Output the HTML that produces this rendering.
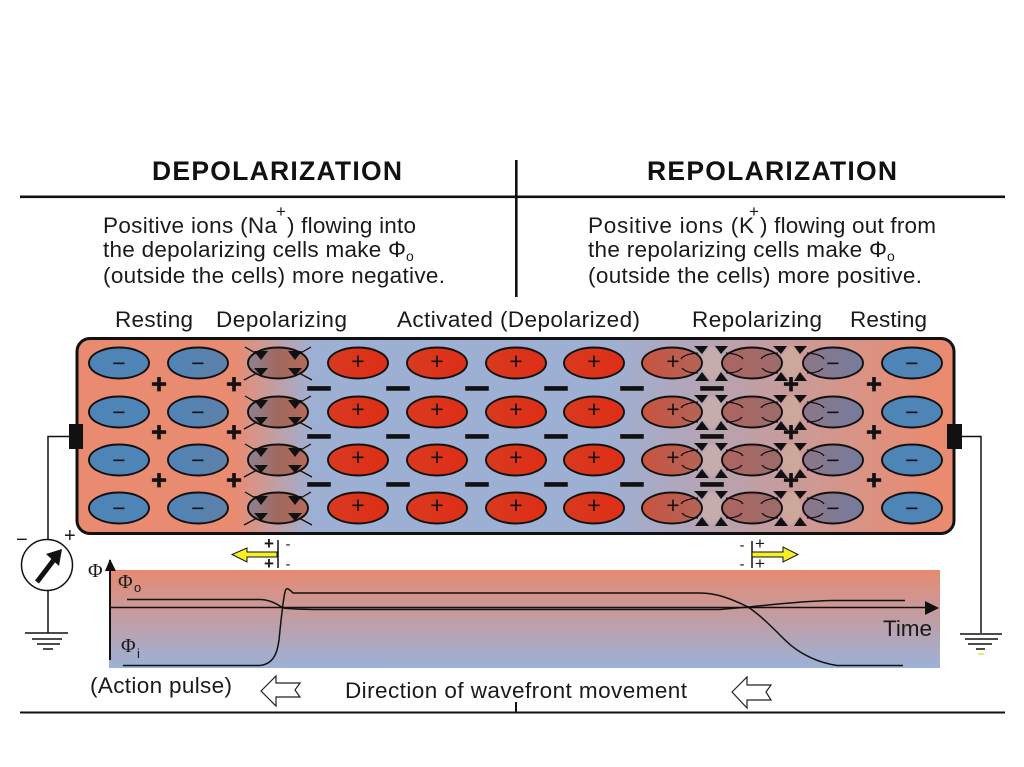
<!DOCTYPE html>
<html>
<head>
<meta charset="utf-8">
<title>Depolarization and Repolarization</title>
<style>
html,body{margin:0;padding:0;background:#fff;width:1024px;height:767px;overflow:hidden}
svg{display:block}
text{font-family:"Liberation Sans",Arial,sans-serif;fill:#1a1a1a}
.b{font-size:22.5px}
.h{font-size:26.5px;font-weight:bold;fill:#111}
.s{font-size:23px;text-anchor:middle;fill:#111;font-weight:normal}
.t{font-size:27px;font-weight:bold;text-anchor:middle;fill:#111;stroke:#111;stroke-width:.7}
.m{font-size:21px;font-weight:bold;text-anchor:middle;fill:#111;stroke:#111;stroke-width:2.6}
.p{font-family:"Liberation Serif",serif;font-size:20px}
.c{stroke:#111;stroke-width:1.9}
.l{fill:none;stroke:#111;stroke-width:1.3}
</style>
</head>
<body>
<svg width="1024" height="767" viewBox="0 0 1024 767" xmlns="http://www.w3.org/2000/svg">
<defs>
<linearGradient id="panel" x1="76" x2="955" y1="0" y2="0" gradientUnits="userSpaceOnUse">
<stop offset="0" stop-color="#E98B70"/><stop offset=".18" stop-color="#E98B70"/>
<stop offset=".27" stop-color="#9DB0D4"/><stop offset=".6" stop-color="#9DB0D4"/>
<stop offset=".97" stop-color="#E98B70"/><stop offset="1" stop-color="#E98B70"/>
</linearGradient>
<linearGradient id="graph" x1="0" x2="0" y1="0" y2="1">
<stop offset="0" stop-color="#E68A70"/><stop offset="1" stop-color="#9CB1D7"/>
</linearGradient>
<linearGradient id="g1" x1="0" x2="1" y1="0" y2="0"><stop offset="0" stop-color="#4F84B6"/><stop offset="1" stop-color="#4F84B6"/></linearGradient>
<linearGradient id="g2" x1="0" x2="1" y1="0" y2="0"><stop offset="0" stop-color="#4F84B6"/><stop offset="1" stop-color="#5F80A8"/></linearGradient>
<linearGradient id="g3" x1="0" x2="1" y1="0" y2="0"><stop offset="0" stop-color="#8F8290"/><stop offset=".5" stop-color="#A1685F"/><stop offset="1" stop-color="#B56A58"/></linearGradient>
<linearGradient id="g4" x1="0" x2="1" y1="0" y2="0"><stop offset="0" stop-color="#D83A20"/><stop offset="1" stop-color="#DE2E16"/></linearGradient>
<linearGradient id="g5" x1="0" x2="1" y1="0" y2="0"><stop offset="0" stop-color="#C85440"/><stop offset="1" stop-color="#B46458"/></linearGradient>
<linearGradient id="g6" x1="0" x2="1" y1="0" y2="0"><stop offset="0" stop-color="#AD6560"/><stop offset="1" stop-color="#9C6C6C"/></linearGradient>
<linearGradient id="g7" x1="0" x2="1" y1="0" y2="0"><stop offset="0" stop-color="#8E7688"/><stop offset="1" stop-color="#757C9C"/></linearGradient>

<g id="res1"><ellipse rx="30" ry="15.5" fill="url(#g1)" class="c"/></g>
<g id="res2"><ellipse rx="30" ry="15.5" fill="url(#g2)" class="c"/></g>
<g id="act"><ellipse rx="30" ry="15.5" fill="url(#g4)" class="c"/></g>
<g id="dep">
<ellipse rx="30" ry="15.5" fill="url(#g3)" class="c"/>
<path d="M-33-16-21-9M33-16 21-9M-34 17-21 10M34 17 21 10" class="l"/>
<path d="M-24-12H-10L-17-3ZM24-12H10L17-3ZM-24 5H-10L-17 13ZM24 5H10L17 13Z" fill="#111"/>
</g>
<g id="rep1">
<ellipse rx="30" ry="15.5" fill="url(#g5)" class="c"/>
<path d="M26-10Q12-9 9-4M26 10Q14 10 10 5" class="l"/>
</g>
<g id="rep2">
<ellipse rx="30" ry="15.5" fill="url(#g6)" class="c"/>
<path d="M-26-10Q-12-9-9-4M-26 10Q-14 10-10 5M26-10Q12-9 9-4M26 10Q14 10 10 5" class="l"/>
</g>
<g id="rep3">
<ellipse rx="30" ry="15.5" fill="url(#g7)" class="c"/>
<path d="M-26-10Q-12-9-9-4M-26 10Q-14 10-10 5" class="l"/>
</g>
<g id="gap1">
<path d="M0-17Q-22 0 0 17Q22 0 0-17Z" fill="#C6ADAD"/>
<path d="M-18-17H-4L-10-9ZM16-17H3L9-9ZM-17 18H-3L-10 9ZM16 18H3L9 9Z" fill="#111"/>
</g>
<g id="gap2">
<path d="M0-17Q-22 0 0 17Q22 0 0-17Z" fill="#CDA69C"/>
<path d="M-18-17H-4L-10-9ZM16-17H3L9-9ZM-17 18H-3L-10 9ZM16 18H3L9 9Z" fill="#111"/>
</g>
</defs>

<rect width="1024" height="767" fill="#fff"/>

<!-- header rules -->
<rect x="20" y="195.5" width="985" height="2.6" fill="#111"/>
<rect x="515" y="160" width="2.6" height="137" fill="#111"/>

<text x="152" y="180" class="h" textLength="250" lengthAdjust="spacing">DEPOLARIZATION</text>
<text x="647" y="180" class="h" textLength="250" lengthAdjust="spacing">REPOLARIZATION</text>

<text x="103" y="233" class="b" textLength="174" lengthAdjust="spacing">Positive ions (Na</text>
<text x="276" y="217" font-size="17">+</text>
<text x="287" y="233" class="b" textLength="129" lengthAdjust="spacing">) flowing into</text>
<text x="103" y="257" class="b" textLength="303" lengthAdjust="spacing">the depolarizing cells make Φ</text>
<text x="406" y="261" font-size="14">o</text>
<text x="103" y="283" class="b" textLength="342" lengthAdjust="spacing">(outside the cells) more negative.</text>

<text x="588" y="233" class="b" textLength="166" lengthAdjust="spacing">Positive ions (K</text>
<text x="749" y="217" font-size="17">+</text>
<text x="760" y="233" class="b" textLength="176" lengthAdjust="spacing">) flowing out from</text>
<text x="588" y="257" class="b" textLength="299" lengthAdjust="spacing">the repolarizing cells make Φ</text>
<text x="887" y="261" font-size="14">o</text>
<text x="588" y="283" class="b" textLength="334" lengthAdjust="spacing">(outside the cells) more positive.</text>

<text x="115" y="327" class="b" textLength="78" lengthAdjust="spacing">Resting</text>
<text x="216" y="327" class="b" textLength="131" lengthAdjust="spacing">Depolarizing</text>
<text x="397" y="327" class="b" textLength="243" lengthAdjust="spacing">Activated (Depolarized)</text>
<text x="692" y="327" class="b" textLength="130" lengthAdjust="spacing">Repolarizing</text>
<text x="850" y="327" class="b" textLength="77" lengthAdjust="spacing">Resting</text>

<!-- panel -->
<rect x="77" y="338.5" width="877" height="195" rx="13" fill="url(#panel)" stroke="#111" stroke-width="3"/>

<!-- cells -->
<use href="#res1" x="119" y="363"/><use href="#res1" x="119" y="412"/><use href="#res1" x="119" y="460"/><use href="#res1" x="119" y="508"/>
<use href="#res2" x="198" y="363"/><use href="#res2" x="198" y="412"/><use href="#res2" x="198" y="460"/><use href="#res2" x="198" y="508"/>
<use href="#dep" x="278" y="363"/><use href="#dep" x="278" y="412"/><use href="#dep" x="278" y="460"/><use href="#dep" x="278" y="508"/>
<use href="#act" x="358" y="363"/><use href="#act" x="358" y="412"/><use href="#act" x="358" y="460"/><use href="#act" x="358" y="508"/>
<use href="#act" x="437" y="363"/><use href="#act" x="437" y="412"/><use href="#act" x="437" y="460"/><use href="#act" x="437" y="508"/>
<use href="#act" x="516" y="363"/><use href="#act" x="516" y="412"/><use href="#act" x="516" y="460"/><use href="#act" x="516" y="508"/>
<use href="#act" x="594" y="363"/><use href="#act" x="594" y="412"/><use href="#act" x="594" y="460"/><use href="#act" x="594" y="508"/>
<use href="#gap1" x="712" y="363"/><use href="#gap1" x="712" y="412"/><use href="#gap1" x="712" y="460"/><use href="#gap1" x="712" y="508"/>
<use href="#gap2" x="791" y="363"/><use href="#gap2" x="791" y="412"/><use href="#gap2" x="791" y="460"/><use href="#gap2" x="791" y="508"/>
<use href="#rep1" x="672" y="363"/><use href="#rep1" x="672" y="412"/><use href="#rep1" x="672" y="460"/><use href="#rep1" x="672" y="508"/>
<use href="#rep2" x="752" y="363"/><use href="#rep2" x="752" y="412"/><use href="#rep2" x="752" y="460"/><use href="#rep2" x="752" y="508"/>
<use href="#rep3" x="833" y="363"/><use href="#rep3" x="833" y="412"/><use href="#rep3" x="833" y="460"/><use href="#rep3" x="833" y="508"/>
<use href="#res1" x="912" y="363"/><use href="#res1" x="912" y="412"/><use href="#res1" x="912" y="460"/><use href="#res1" x="912" y="508"/>

<!-- cell signs -->
<g>
<text class="s" x="119" y="371">−</text><text class="s" x="119" y="420">−</text><text class="s" x="119" y="468">−</text><text class="s" x="119" y="516">−</text>
<text class="s" x="198" y="371">−</text><text class="s" x="198" y="420">−</text><text class="s" x="198" y="468">−</text><text class="s" x="198" y="516">−</text>
<text class="s" x="358" y="369">+</text><text class="s" x="358" y="417">+</text><text class="s" x="358" y="465">+</text><text class="s" x="358" y="513">+</text>
<text class="s" x="437" y="369">+</text><text class="s" x="437" y="417">+</text><text class="s" x="437" y="465">+</text><text class="s" x="437" y="513">+</text>
<text class="s" x="516" y="369">+</text><text class="s" x="516" y="417">+</text><text class="s" x="516" y="465">+</text><text class="s" x="516" y="513">+</text>
<text class="s" x="594" y="369">+</text><text class="s" x="594" y="417">+</text><text class="s" x="594" y="465">+</text><text class="s" x="594" y="513">+</text>
<text class="s" x="673" y="369">+</text><text class="s" x="673" y="417">+</text><text class="s" x="673" y="465">+</text><text class="s" x="673" y="513">+</text>
<text class="s" x="833" y="371">−</text><text class="s" x="833" y="420">−</text><text class="s" x="833" y="468">−</text><text class="s" x="833" y="516">−</text>
<text class="s" x="912" y="371">−</text><text class="s" x="912" y="420">−</text><text class="s" x="912" y="468">−</text><text class="s" x="912" y="516">−</text>
</g>

<!-- between-cell charges -->
<text class="t" x="159" y="393">+</text><text class="t" x="159" y="441">+</text><text class="t" x="159" y="489">+</text>
<text class="t" x="234" y="393">+</text><text class="t" x="234" y="441">+</text><text class="t" x="234" y="489">+</text>
<text class="t" x="791" y="393">+</text><text class="t" x="791" y="441">+</text><text class="t" x="791" y="489">+</text>
<text class="t" x="874" y="393">+</text><text class="t" x="874" y="441">+</text><text class="t" x="874" y="489">+</text>
<text class="m" x="319" y="394">—</text><text class="m" x="319" y="442">—</text><text class="m" x="319" y="490">—</text>
<text class="m" x="398" y="394">—</text><text class="m" x="398" y="442">—</text><text class="m" x="398" y="490">—</text>
<text class="m" x="477" y="394">—</text><text class="m" x="477" y="442">—</text><text class="m" x="477" y="490">—</text>
<text class="m" x="556" y="394">—</text><text class="m" x="556" y="442">—</text><text class="m" x="556" y="490">—</text>
<text class="m" x="632" y="394">—</text><text class="m" x="632" y="442">—</text><text class="m" x="632" y="490">—</text>
<text class="m" x="712" y="394">—</text><text class="m" x="712" y="442">—</text><text class="m" x="712" y="490">—</text>

<!-- electrodes and wires -->
<rect x="69" y="424" width="14" height="25" fill="#111"/>
<rect x="947" y="424" width="15" height="25" fill="#111"/>
<path d="M69 436.5H48V542M48 590V633M962 436.5H981V633" fill="none" stroke="#111" stroke-width="1.5"/>

<!-- meter -->
<circle cx="47" cy="565" r="25.5" fill="#fff" stroke="#111" stroke-width="1.5"/>
<path d="M37 582 56 557" stroke="#111" stroke-width="5" fill="none"/>
<path d="M62 549 46 554 59 566Z" fill="#111"/>
<text x="16" y="546" font-size="20">−</text>
<text x="64" y="542" font-size="20">+</text>

<!-- grounds -->
<path d="M25 633H68M32 639H62M37 644H60M43 649H53" stroke="#111" stroke-width="1.5" fill="none"/>
<path d="M960 634H1002M965 639H998M968 644H992M976 649H985" stroke="#111" stroke-width="1.5" fill="none"/>
<path d="M978 654H984" stroke="#E8E040" stroke-width="1.5"/>

<!-- yellow arrows -->
<path d="M278 540V568M752 541V568" stroke="#111" stroke-width="1.5" fill="none"/>
<path d="M277 552H247V548L232 554.5 247 562V557H277Z" fill="#F6F024" stroke="#111" stroke-width="1"/>
<path d="M752 552H783V547L798 554.5 783 562V557H752Z" fill="#F6F024" stroke="#111" stroke-width="1"/>
<text x="269" y="549" font-size="17" font-weight="bold" text-anchor="middle">+</text>
<text x="269" y="569" font-size="17" font-weight="bold" text-anchor="middle">+</text>
<text x="288" y="549" font-size="15" text-anchor="middle">-</text>
<text x="288" y="569" font-size="15" text-anchor="middle">-</text>
<text x="760" y="549" font-size="17" text-anchor="middle">+</text>
<text x="760" y="569" font-size="17" text-anchor="middle">+</text>
<text x="742" y="550" font-size="15" text-anchor="middle">-</text>
<text x="742" y="569" font-size="15" text-anchor="middle">-</text>

<!-- graph -->
<rect x="109" y="570" width="831" height="98" fill="url(#graph)"/>
<path d="M110 560V660" stroke="#111" stroke-width="2" fill="none"/>
<path d="M110 559 105 571H116Z" fill="#111"/>
<path d="M110 607.5H926" stroke="#111" stroke-width="1.5" fill="none"/>
<path d="M925 601 939 608 925 615Z" fill="#111"/>
<path d="M127 599.5H258C268 599 276 603 283 608C292 609 300 609.5 320 609.500H720L748 607C770 605 800 601 833 600.5H905" fill="none" stroke="#111" stroke-width="1.5"/>
<path d="M123 665.5H260C272 664 277 656 279 640C281 620 283 600 285 592C286 587 288 588 293 593H700C715 593 730 598 748 607C760 615 770 625 785 640C800 655 820 663 837 665.5H903" fill="none" stroke="#111" stroke-width="1.5"/>
<text x="88" y="577" class="p">Φ</text>
<text x="118" y="588" class="p">Φ</text>
<text x="134" y="592" font-size="13">o</text>
<text x="121" y="652" class="p">Φ</text>
<text x="137" y="658" font-size="13">i</text>
<text x="883" y="636" class="b" textLength="49" lengthAdjust="spacing">Time</text>

<!-- bottom row -->
<text x="90" y="693" class="b" textLength="142" lengthAdjust="spacing">(Action pulse)</text>
<text x="345" y="698" class="b" textLength="342" lengthAdjust="spacing">Direction of wavefront movement</text>
<path d="M261 691 276 676V683H300L295 690 300 697H276V706Z" fill="#fff" stroke="#222" stroke-width="1.2"/>
<path d="M732 692 747 677V685H771L766 692 771 700H747V708Z" fill="#fff" stroke="#222" stroke-width="1.2"/>
<rect x="20" y="711.5" width="985" height="2" fill="#111"/>
<rect x="515" y="702" width="2" height="10" fill="#111"/>
</svg>
</body>
</html>
